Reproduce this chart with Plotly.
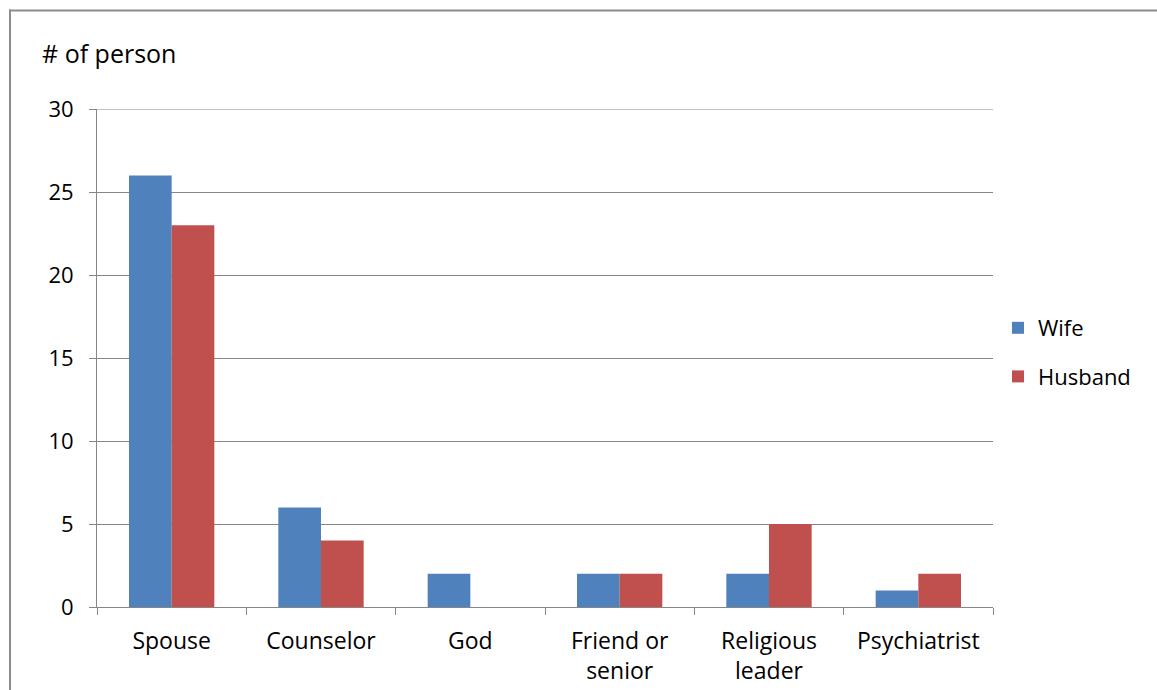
import plotly.graph_objects as go

categories = ["Spouse", "Counselor", "God", "Friend or<br>senior", "Religious<br>leader", "Psychiatrist"]
wife = [26, 6, 2, 2, 2, 1]
husband = [23, 4, 0, 2, 5, 2]
y_ticks = [0, 5, 10, 15, 20, 25, 30]

W, H = 1157, 690
L, T = 97, 109
pw, ph = 896, 498
R, B = W - L - pw, H - T - ph

def px(x):
    return (x - L) / pw

def py(y):
    return (T + ph - y) / ph

font = "Open Sans"
grid = "#868686"

fig = go.Figure()
fig.add_trace(go.Bar(name="Wife", x=categories, y=wife, legendgroup="w",
                     marker=dict(color="#4F81BD", line_width=0)))
fig.add_trace(go.Bar(name="Husband", x=categories, y=husband, legendgroup="h",
                     marker=dict(color="#C0504D", line_width=0)))

fig.update_layout(
    width=W, height=H,
    margin=dict(l=L, r=R, t=T, b=B, autoexpand=False),
    paper_bgcolor="white", plot_bgcolor="white",
    barmode="group", bargap=1.5 / 3.5, bargroupgap=0,
    font=dict(family=font, size=22, color="black"),
    showlegend=True,
    legend=dict(x=px(998), y=py(307), xanchor="left", yanchor="top",
                font=dict(size=22), itemwidth=30, traceorder="grouped", tracegroupgap=17,
                bgcolor="rgba(0,0,0,0)"),
    xaxis=dict(type="category", showgrid=False, showline=True, linecolor=grid, linewidth=1,
               ticks="outside", tickson="boundaries", ticklen=7, tickcolor=grid,
               tickfont=dict(size=23), ticklabelstandoff=13, automargin=False),
    yaxis=dict(range=[0, 30], tickvals=y_ticks, showgrid=True, gridcolor=grid, gridwidth=1,
               showline=True, linecolor=grid, linewidth=1, ticks="outside", ticklen=7,
               tickcolor=grid, tickfont=dict(size=22), zeroline=False, ticklabelstandoff=11,
               automargin=False),
    annotations=[dict(text="# of person", xref="paper", yref="paper", x=px(40), y=py(53),
                      xanchor="left", yanchor="middle", showarrow=False, font=dict(size=25))],
    shapes=[
        dict(type="line", xref="paper", yref="y", x0=0, x1=1, y0=30, y1=30,
             line=dict(color=grid, width=1)),
        dict(type="line", xref="paper", yref="paper", x0=px(9), x1=px(1170), y0=py(10.5), y1=py(10.5),
             line=dict(color="#8c8c8c", width=2)),
        dict(type="line", xref="paper", yref="paper", x0=px(10), x1=px(10), y0=py(9.5), y1=py(700),
             line=dict(color="#8c8c8c", width=2)),
    ],
)

post = ("document.body.style.margin='0';document.body.style.padding='0';"
        "document.body.style.overflow='hidden';"
        "document.documentElement.style.overflow='hidden';")
fig.write_html("out.html", post_script=post, config={"displayModeBar": False})
